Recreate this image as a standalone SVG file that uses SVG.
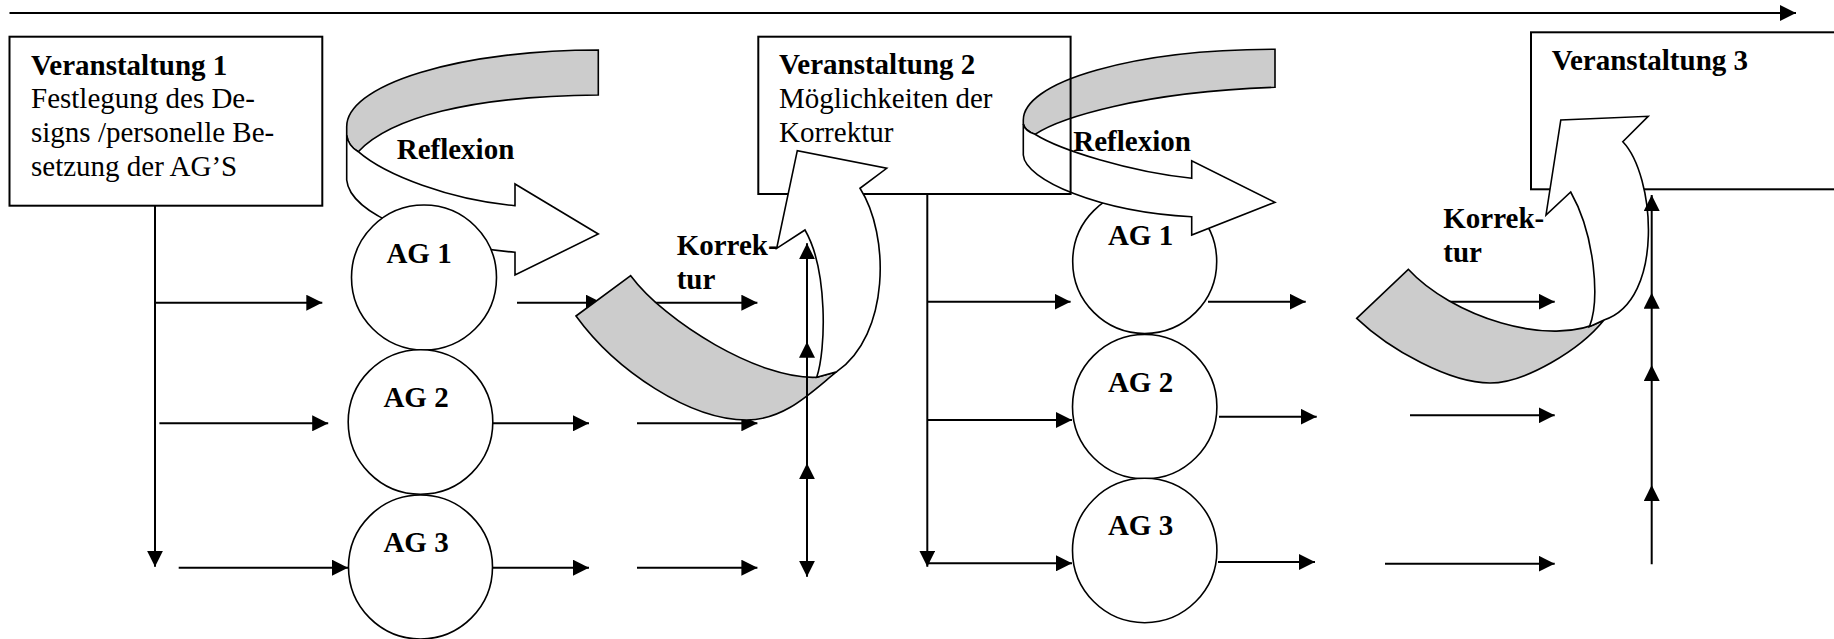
<svg xmlns="http://www.w3.org/2000/svg" width="1834" height="639" viewBox="0 0 1834 639">
<style>
.ln{stroke:#000;stroke-width:2;fill:none}
.box{stroke:#000;stroke-width:2;fill:#fff}
.boxo{stroke:#000;stroke-width:2;fill:none}
.circ{stroke:#000;stroke-width:1.6;fill:#fff}
.gray{fill:#cccccc;stroke:#000;stroke-width:1.6;stroke-linejoin:miter}
.white{fill:#fff;stroke:#000;stroke-width:1.6;stroke-linejoin:miter}
text{font-family:"Liberation Serif","Times New Roman",serif;font-size:29px;fill:#000}
.b{font-weight:bold}
.c{font-weight:bold;text-anchor:middle}
</style>
<defs>
<marker id="ah" viewBox="0 0 16 16" refX="16" refY="8" markerWidth="16" markerHeight="16" markerUnits="userSpaceOnUse" orient="auto-start-reverse"><path d="M0,0 L16,8 L0,16 Z" fill="#000"/></marker>
</defs>

<g id="connectors">
<line class="ln" x1="9.5" y1="13" x2="1796" y2="13" marker-end="url(#ah)"/>
<!-- column 1 -->
<line class="ln" x1="155" y1="205.7" x2="155" y2="566.7" marker-end="url(#ah)"/>
<line class="ln" x1="155" y1="302.7" x2="322.3" y2="302.7" marker-end="url(#ah)"/>
<line class="ln" x1="159.4" y1="423.3" x2="328.2" y2="423.3" marker-end="url(#ah)"/>
<line class="ln" x1="178.7" y1="567.7" x2="348" y2="567.7" marker-end="url(#ah)"/>
<line class="ln" x1="517" y1="302.7" x2="602" y2="302.7" marker-end="url(#ah)"/>
<line class="ln" x1="637" y1="302.7" x2="757.4" y2="302.7" marker-end="url(#ah)"/>
<line class="ln" x1="493" y1="423.3" x2="589" y2="423.3" marker-end="url(#ah)"/>
<line class="ln" x1="637" y1="423.3" x2="757.4" y2="423.3" marker-end="url(#ah)"/>
<line class="ln" x1="493" y1="567.7" x2="589" y2="567.7" marker-end="url(#ah)"/>
<line class="ln" x1="637" y1="567.7" x2="757.4" y2="567.7" marker-end="url(#ah)"/>
<!-- column 2 -->
<line class="ln" x1="927.3" y1="194" x2="927.3" y2="566.7" marker-end="url(#ah)"/>
<line class="ln" x1="927.3" y1="301.7" x2="1070.6" y2="301.7" marker-end="url(#ah)"/>
<line class="ln" x1="927.3" y1="420" x2="1072" y2="420" marker-end="url(#ah)"/>
<line class="ln" x1="927.3" y1="563.3" x2="1072" y2="563.3" marker-end="url(#ah)"/>
<line class="ln" x1="1208" y1="301.7" x2="1305.7" y2="301.7" marker-end="url(#ah)"/>
<line class="ln" x1="1410" y1="301.7" x2="1554.7" y2="301.7" marker-end="url(#ah)"/>
<line class="ln" x1="1219" y1="416.7" x2="1316.7" y2="416.7" marker-end="url(#ah)"/>
<line class="ln" x1="1410" y1="415.3" x2="1554.7" y2="415.3" marker-end="url(#ah)"/>
<line class="ln" x1="1218" y1="562" x2="1315" y2="562" marker-end="url(#ah)"/>
<line class="ln" x1="1385" y1="563.7" x2="1554.7" y2="563.7" marker-end="url(#ah)"/>
</g>

<g id="veranstaltung1">
<rect class="box" x="9.5" y="36.7" width="312.8" height="169"/>
<text class="b" x="31" y="75">Veranstaltung 1</text>
<text x="31" y="108.3">Festlegung des De-</text>
<text x="31" y="142.3">signs /personelle Be-</text>
<text x="31" y="175.7">setzung der AG’S</text>
</g>

<g id="reflexion1">
<path class="gray" d="M598.3,50 A251.6,76.7 0 0 0 346.7,126.7 L346.7,135 Q348,146 358.3,151.7 C390,118 470,96 598.3,95 Z"/>
<path class="white" d="M346.7,135 L346.7,180 C350,215 430,245 515,252.3 L515,275 L598.3,234 L515,184 L515,205.7 C450,200 385,175 358.3,151.7 Q348,146 346.7,135 Z"/>
</g>

<g id="ag1-1"><circle class="circ" cx="424" cy="277.5" r="72.5"/><text class="c" x="419" y="263.3">AG 1</text></g>
<g id="ag2-1"><circle class="circ" cx="420.5" cy="422" r="72.3"/><text class="c" x="416" y="406.7">AG 2</text></g>
<g id="ag3-1"><circle class="circ" cx="420.5" cy="567" r="72"/><text class="c" x="416" y="551.7">AG 3</text></g>

<g id="ag1-2"><circle class="circ" cx="1144.7" cy="261.5" r="72"/><text class="c" x="1140.5" y="245">AG 1</text></g>
<g id="ag2-2"><circle class="circ" cx="1144.7" cy="406.7" r="72.2"/><text class="c" x="1140.5" y="391.7">AG 2</text></g>
<g id="ag3-2"><circle class="circ" cx="1144.7" cy="550.5" r="72.2"/><text class="c" x="1140.5" y="535">AG 3</text></g>

<g id="reflexion2">
<path class="gray" d="M1275,49.3 A251.7,70.7 0 0 0 1023.3,120 L1023.3,124 Q1025,131 1035,134.3 C1060,118 1140,92 1275,87.3 Z"/>
<path class="white" d="M1023.3,124 L1023.3,155 C1025,180 1100,212 1191.7,216.7 L1191.7,235 L1275,202.3 L1191.7,160.7 L1191.7,178.3 C1130,172 1060,150 1035,134.3 Q1025,131 1023.3,124 Z"/>
</g>

<g id="veranstaltung2">
<rect class="boxo" x="758.3" y="36.7" width="312.3" height="157.3"/>
<text class="b" x="779" y="74">Veranstaltung 2</text>
<text x="779" y="108">Möglichkeiten der</text>
<text x="779" y="141.7">Korrektur</text>
</g>

<g id="veranstaltung3">
<rect class="box" x="1531" y="32.3" width="320" height="157"/>
<text class="b" x="1551.7" y="70">Veranstaltung 3</text>
</g>

<g id="korrektur1">
<path class="gray" d="M576,316 L630.7,275.7 C665,322 760,380 816.7,377.3 L836.7,371.7 C811.7,391.7 785,420 746.7,420 C690,420 616,371 576,316 Z"/>
<path class="white" d="M816.7,377.3 C826,350 828,270 805,230 L776.7,248.3 L797.3,150.7 L886.7,168.3 L860,188.3 C890,235 890,335 836.7,371.7 Z"/>
</g>

<g id="korrektur2">
<path class="gray" d="M1356.7,318.3 L1408.3,269.3 C1450,315 1550,350 1604,320 C1580,350 1525,383 1490,383 C1450,383 1390,350 1356.7,318.3 Z"/>
<path class="white" d="M1589.4,326.7 C1600,300 1595,235 1570.7,192 L1546,215 L1560.8,120 L1648.2,116.3 L1622.8,141.7 C1655,175 1665,300 1604,320 Z"/>
</g>

<g id="connectors-front">
<path class="ln" d="M807,576.7 L807,463.3 L807,341.7 L807,243.3" marker-start="url(#ah)" marker-mid="url(#ah)" marker-end="url(#ah)"/>
<path class="ln" d="M1651.7,564.3 L1651.7,485 L1651.7,365 L1651.7,292.7 L1651.7,195" marker-mid="url(#ah)" marker-end="url(#ah)"/>
</g>

<g id="labels">
<text class="b" x="396.7" y="159">Reflexion</text>
<text class="b" x="1073.3" y="151">Reflexion</text>
<text class="b" x="676.7" y="255">Korrek-</text>
<text class="b" x="676.7" y="289">tur</text>
<text class="b" x="1443.3" y="228.3">Korrek-</text>
<text class="b" x="1443.3" y="262.3">tur</text>
</g>
</svg>
